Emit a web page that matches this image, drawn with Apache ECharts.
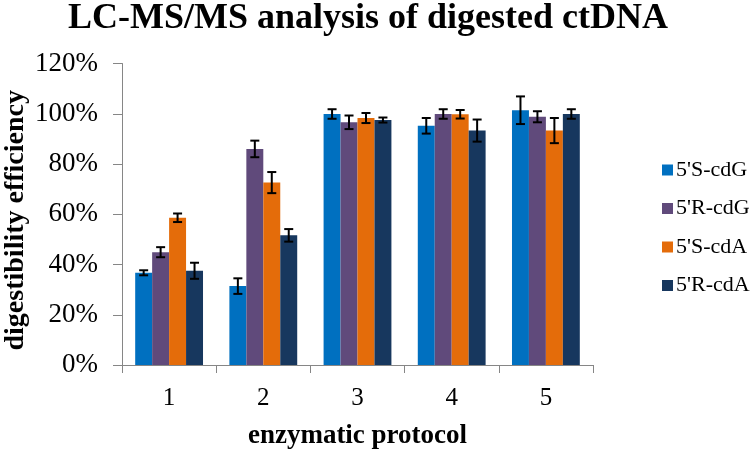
<!DOCTYPE html>
<html>
<head>
<meta charset="utf-8">
<script src="https://cdn.jsdelivr.net/npm/echarts@6/dist/echarts.min.js"></script>
<style>html,body{margin:0;padding:0;background:#fff;}#c{width:756px;height:454px;}</style>
</head>
<body>
<div id="c"></div>
<script>
const categories = ['1', '2', '3', '4', '5'];
const seriesNames = ["5'S-cdG", "5'R-cdG", "5'S-cdA", "5'R-cdA"];
const s_cdG = [36.7, 31.4, 99.9, 95.2, 101.4];
const r_cdG = [44.9, 86.0, 96.6, 99.9, 98.8];
const s_cdA = [58.6, 72.6, 98.3, 99.8, 93.3];
const r_cdA = [37.5, 51.6, 97.5, 93.3, 99.9];
const err_s_cdG = [1.0, 3.1, 1.9, 3.1, 5.5];
const err_r_cdG = [2.0, 3.3, 2.7, 1.9, 2.2];
const err_s_cdA = [1.7, 4.2, 2.0, 1.7, 5.0];
const err_r_cdA = [3.2, 2.5, 1.0, 4.4, 1.9];
const yTicks = [0, 20, 40, 60, 80, 100, 120];

const values = [s_cdG, r_cdG, s_cdA, r_cdA];
const errors = [err_s_cdG, err_r_cdG, err_s_cdA, err_r_cdA];
const colors = ['#0070C0', '#604A7B', '#E46C0A', '#17375E'];
const serif = '"Liberation Serif", "Times New Roman", serif';
const catGapRatio = 0.28;

const errData = [];
values.forEach((arr, si) => {
  arr.forEach((v, ci) => {
    errData.push([ci, v - errors[si][ci], v + errors[si][ci], si]);
  });
});

const chart = echarts.init(document.getElementById('c'));
const barSeries = seriesNames.map((n, i) => ({
  name: n,
  type: 'bar',
  data: values[i],
  barGap: '0%',
  barCategoryGap: (catGapRatio * 100) + '%',
  itemStyle: { color: colors[i] },
  emphasis: { disabled: true }
}));

chart.setOption({
  animation: false,
  title: {
    text: 'LC-MS/MS analysis of digested ctDNA',
    left: 363, textAlign: 'center', top: -4,
    textStyle: { fontFamily: serif, fontWeight: 'bold', fontSize: 36, color: '#000' }
  },
  legend: {
    orient: 'vertical',
    left: 657, top: 154,
    data: seriesNames,
    icon: 'rect',
    itemWidth: 11, itemHeight: 11,
    itemGap: 16.5,
    textStyle: { fontFamily: serif, fontSize: 22, color: '#000', lineHeight: 22, padding: [0, 0, 0, -2] }
  },
  grid: { left: 122, right: 163, top: 63.5, bottom: 89, containLabel: false, outerBoundsMode: 'none' },
  xAxis: {
    type: 'category',
    data: categories,
    name: 'enzymatic protocol',
    nameLocation: 'middle',
    nameGap: 58,
    nameMoveOverlap: false,
    nameTextStyle: { fontFamily: serif, fontWeight: 'bold', fontSize: 27, color: '#000' },
    axisLine: { lineStyle: { color: '#868686', width: 1 } },
    axisTick: { show: true, length: 8, lineStyle: { color: '#868686' } },
    axisLabel: { fontFamily: serif, fontSize: 25, color: '#000', margin: 21 }
  },
  yAxis: {
    type: 'value',
    min: 0, max: 120, interval: 20,
    name: 'digestibility efficiency',
    nameLocation: 'middle',
    nameGap: 92,
    nameMoveOverlap: false,
    nameTextStyle: { fontFamily: serif, fontWeight: 'bold', fontSize: 28, color: '#000', padding: [0, 12, 0, 0] },
    axisLine: { show: true, lineStyle: { color: '#868686', width: 1 } },
    axisTick: { show: true, length: 9, lineStyle: { color: '#868686' } },
    splitLine: { show: false },
    axisLabel: {
      fontFamily: serif, fontSize: 27, color: '#000', margin: 24,
      formatter: v => yTicks.includes(v) ? v + '%' : ''
    }
  },
  series: barSeries.concat([{
    type: 'custom',
    name: 'errors',
    data: errData,
    z: 10,
    encode: { x: 0, y: [1, 2] },
    renderItem: function (params, api) {
      const ci = api.value(0);
      const lo = api.value(1), hi = api.value(2), si = api.value(3);
      const band = api.size([1, 0])[0];
      const bw = band * (1 - catGapRatio) / 4;
      const base = api.coord([ci, lo]);
      const top = api.coord([ci, hi]);
      const x = base[0] + (si - 1.5) * bw;
      const cap = 4.5;
      const style = { stroke: '#000', lineWidth: 2 };
      return {
        type: 'group',
        children: [
          { type: 'line', shape: { x1: x, y1: top[1], x2: x, y2: base[1] }, style },
          { type: 'line', shape: { x1: x - cap, y1: top[1], x2: x + cap, y2: top[1] }, style },
          { type: 'line', shape: { x1: x - cap, y1: base[1], x2: x + cap, y2: base[1] }, style }
        ]
      };
    }
  }])
});
</script>
</body>
</html>
